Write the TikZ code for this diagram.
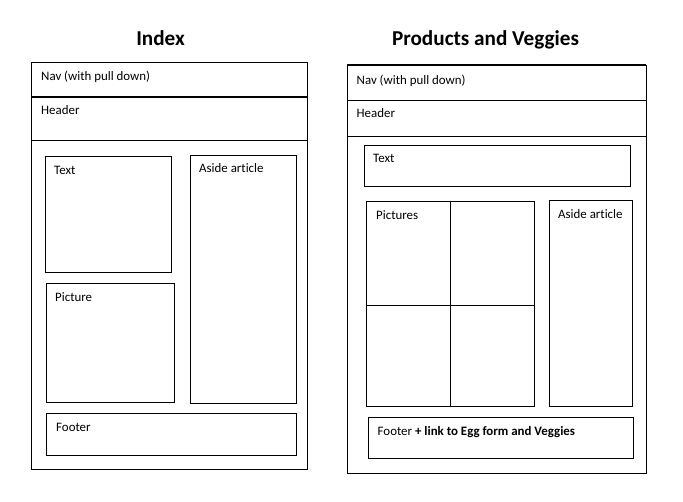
\documentclass[tikz,border=0pt]{standalone}
\usepackage{fontspec}
\setmainfont{Carlito}[Ligatures={NoCommon}]
\begin{document}
\begin{tikzpicture}[x=1pt,y=-1pt,
  frame/.style={draw=black,line width=1pt},
  heavy/.style={draw=black,line width=2pt},
  lbl/.style={anchor=base west,inner sep=0pt,font=\fontsize{12.9}{15}\selectfont},
  ttl/.style={anchor=base,inner sep=0pt,font=\fontsize{21.2}{25}\selectfont\bfseries}]
\useasboundingbox[fill=white] (0,0) rectangle (683,501);

% ---------- Index page ----------
\node[ttl] (idxtitle) at (160.5,45.5) {Index};
\draw[frame] (31,62.5) rectangle (307,469);
\draw[heavy] (31,97) -- (307,97);
\draw[frame] (31,140) -- (307,140);
\node[lbl] (idxnav) at (41,80) {Nav (with pull down)};
\node[lbl] (idxhead) at (41,114) {Header};

\draw[frame] (45.5,156) rectangle (171.5,272);
\node[lbl] (idxtext) at (54,174) {Text};
\draw[frame] (190,155) rectangle (296.5,403);
\node[lbl] (idxaside) at (199,172) {Aside article};
\draw[frame] (46,283.5) rectangle (174.5,402);
\node[lbl] (idxpic) at (55,301) {Picture};
\draw[frame] (46,413) rectangle (296.5,455);
\node[lbl] (idxfoot) at (56,431) {Footer};

% ---------- Products and Veggies page ----------
\node[ttl] (pvtitle) at (485.5,45) {Products and Veggies};
\draw[frame] (347,65) rectangle (646,473);
\draw[heavy] (347,65) -- (646,65);
\draw[frame] (347,100) -- (646,100);
\draw[frame] (347,136) -- (646,136);
\node[lbl] (pvnav) at (356.5,84) {Nav (with pull down)};
\node[lbl] (pvhead) at (356.5,117.5) {Header};

\draw[frame] (364,145.5) rectangle (630.5,186);
\node[lbl] (pvtext) at (373,162.5) {Text};

\draw[frame] (366,201.5) rectangle (534,406);
\draw[frame] (450,201.5) -- (450,406);
\draw[frame] (366,305) -- (534,305);
\node[lbl] (pvpics) at (376,219) {Pictures};

\draw[frame] (549,200.5) rectangle (632.5,406);
\node[lbl] (pvaside) at (558,218) {Aside article};

\draw[frame] (368,417) rectangle (633,458);
\node[lbl] (pvfoot) at (377.5,435.5) {Footer \textbf{+ link to Egg form and Veggies}};
\end{tikzpicture}
\end{document}
